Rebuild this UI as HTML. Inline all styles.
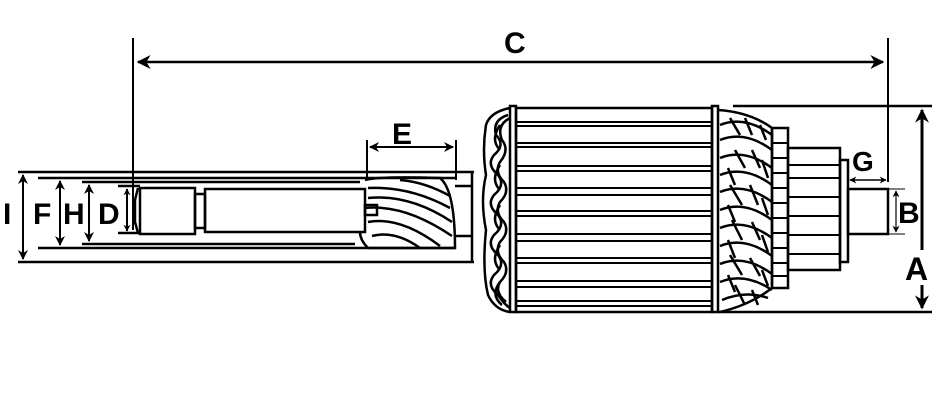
<!DOCTYPE html>
<html><head><meta charset="utf-8"><style>
html,body{margin:0;padding:0;background:#fff;}
svg{display:block}
text{font-family:"Liberation Sans",sans-serif;font-weight:bold;fill:#000}
</style></head><body>
<svg width="937" height="406" viewBox="0 0 937 406" xmlns="http://www.w3.org/2000/svg">
<defs>
<marker id="ar" viewBox="0 0 10 10" refX="9" refY="5" markerWidth="7" markerHeight="7" markerUnits="userSpaceOnUse" orient="auto-start-reverse"><path d="M0,0 L10,5 L0,10 L3,5 z" fill="#000"/></marker>
<marker id="aL" viewBox="0 0 10 10" refX="9" refY="5" markerWidth="16" markerHeight="14" markerUnits="userSpaceOnUse" orient="auto-start-reverse"><path d="M0,0 L10,5 L0,10 L3,5 z" fill="#000"/></marker>
<marker id="aM" viewBox="0 0 10 10" refX="9" refY="5" markerWidth="11" markerHeight="10" markerUnits="userSpaceOnUse" orient="auto-start-reverse"><path d="M0,0 L10,5 L0,10 L3,5 z" fill="#000"/></marker>
<marker id="as" viewBox="0 0 10 10" refX="9" refY="5" markerWidth="7" markerHeight="7" markerUnits="userSpaceOnUse" orient="auto-start-reverse"><path d="M0,0 L10,5 L0,10 L3,5 z" fill="#000"/></marker>
</defs>
<g stroke="#000" fill="none" stroke-width="2.5">
<!-- C dimension -->
<line x1="133" y1="38" x2="133" y2="230" stroke-width="2"/>
<line x1="888" y1="38" x2="888" y2="182" stroke-width="2"/>
<line x1="138" y1="62" x2="883" y2="62" marker-start="url(#aL)" marker-end="url(#aL)" stroke-width="2.5"/>
<!-- left shaft -->
<line x1="18" y1="172" x2="474" y2="172"/>
<line x1="18" y1="262" x2="474" y2="262"/>
<line x1="38" y1="178" x2="455" y2="178"/>
<line x1="38" y1="248" x2="455" y2="248"/>
<line x1="82" y1="182" x2="360" y2="182"/>
<line x1="82" y1="244" x2="355" y2="244"/>
<line x1="118" y1="186" x2="140" y2="186"/>
<line x1="118" y1="233" x2="140" y2="233"/>
<rect x="140" y="188" width="55" height="46"/>
<rect x="195" y="194" width="10" height="34"/>
<rect x="205" y="189" width="160" height="43"/>
<path d="M138,188 L135,200 L135,222 L138,233"/>
<!-- gear -->
<path d="M365,180 Q380,176 440,178 Q455,190 455,248 L368,248 Q360,240 360,232"/>
<path d="M368,188 Q410,186 450,208"/><path d="M368,198 Q410,194 452,222"/>
<path d="M365,208 Q405,204 452,236"/><path d="M368,222 Q400,216 440,246"/>
<path d="M372,236 Q395,230 420,248"/><path d="M400,180 Q425,182 450,196"/>
<rect x="365" y="205" width="12" height="10"/>
<line x1="455" y1="186" x2="472" y2="186"/><line x1="455" y1="236" x2="472" y2="236"/>
<line x1="472" y1="172" x2="472" y2="262"/>
<!-- E -->
<line x1="367" y1="140" x2="367" y2="180" stroke-width="2"/>
<line x1="456" y1="140" x2="456" y2="180" stroke-width="2"/>
<line x1="370" y1="147" x2="453" y2="147" marker-start="url(#aM)" marker-end="url(#aM)" stroke-width="2"/>
<!-- left dims -->
<line x1="23" y1="175" x2="23" y2="259" marker-start="url(#aM)" marker-end="url(#aM)" stroke-width="2"/>
<line x1="60" y1="181" x2="60" y2="245" marker-start="url(#aM)" marker-end="url(#aM)" stroke-width="2"/>
<line x1="89" y1="185" x2="89" y2="241" marker-start="url(#aM)" marker-end="url(#aM)" stroke-width="2"/>
<line x1="127" y1="189" x2="127" y2="231" marker-start="url(#as)" marker-end="url(#as)" stroke-width="2"/>
<!-- left windings -->
<path d="M510,108 Q490,112 486,125 Q482,150 486,175 Q480,200 486,230 Q482,270 488,295 Q495,310 510,312"/>
<path d="M508,115 Q492,120 496,135 Q506,145 494,155 Q486,165 498,175 Q506,185 494,195 Q486,205 498,215 Q506,225 494,235 Q486,245 498,255 Q506,265 494,275 Q486,285 498,295 Q505,305 510,308"/>
<path d="M510,118 Q496,125 502,140 Q510,150 500,162 Q494,172 504,182 Q510,192 500,202 Q494,212 504,222 Q510,232 500,242 Q494,252 504,262 Q510,272 500,282 Q494,292 506,302"/>
<path d="M500,125 Q490,140 500,150 M500,165 Q490,180 500,190 M500,205 Q490,220 500,230 M500,245 Q490,260 500,270 M500,282 Q490,295 502,305"/>
<!-- core -->
<rect x="510" y="106" width="6" height="206"/>
<rect x="516" y="108" width="196" height="204"/>
<rect x="712" y="106" width="6" height="206"/>
<g stroke-width="2">
<line x1="516" y1="122" x2="712" y2="122"/><line x1="516" y1="126" x2="712" y2="126"/>
<line x1="516" y1="143" x2="712" y2="143"/><line x1="516" y1="147" x2="712" y2="147"/>
<line x1="516" y1="166" x2="712" y2="166"/><line x1="516" y1="171" x2="712" y2="171"/>
<line x1="516" y1="188" x2="712" y2="188"/><line x1="516" y1="195" x2="712" y2="195"/>
<line x1="516" y1="211" x2="712" y2="211"/><line x1="516" y1="216" x2="712" y2="216"/>
<line x1="516" y1="234" x2="712" y2="234"/><line x1="516" y1="241" x2="712" y2="241"/>
<line x1="516" y1="258" x2="712" y2="258"/><line x1="516" y1="263" x2="712" y2="263"/>
<line x1="516" y1="281" x2="712" y2="281"/><line x1="516" y1="287" x2="712" y2="287"/>
<line x1="516" y1="301" x2="712" y2="301"/><line x1="516" y1="306" x2="712" y2="306"/>
</g>
<!-- right windings -->
<path d="M718,110 Q750,112 772,128 L772,288 Q750,305 720,312"/>
<g stroke-width="2.5">
<path d="M720,125 Q745,115 772,135"/><path d="M720,140 Q745,130 772,150"/>
<path d="M720,158 Q745,148 772,168"/><path d="M720,175 Q745,165 772,185"/>
<path d="M720,192 Q745,182 772,202"/><path d="M720,210 Q745,200 772,220"/>
<path d="M720,228 Q745,218 772,238"/><path d="M720,246 Q745,236 772,256"/>
<path d="M720,264 Q745,254 772,274"/><path d="M720,282 Q745,272 772,290"/>
<path d="M722,300 Q745,290 768,298"/>
<path d="M730,118 L740,135 M745,118 L752,135 M760,125 L766,140 M735,150 L745,168 M752,150 L760,168 M728,168 L735,185 M762,160 L768,178 M730,185 L742,205 M750,185 L758,205 M728,205 L735,222 M762,198 L768,215 M732,220 L742,240 M752,222 L760,240 M728,240 L735,258 M762,235 L768,252 M730,255 L742,275 M750,258 L760,276 M728,275 L735,292 M762,270 L768,286 M735,285 L745,305 M752,290 L758,305"/>
</g>
<!-- commutator -->
<rect x="772" y="128" width="16" height="160"/>
<g stroke-width="2">
<line x1="772" y1="143" x2="788" y2="143"/><line x1="772" y1="158" x2="788" y2="158"/>
<line x1="772" y1="173" x2="788" y2="173"/><line x1="772" y1="188" x2="788" y2="188"/>
<line x1="772" y1="203" x2="788" y2="203"/><line x1="772" y1="218" x2="788" y2="218"/>
<line x1="772" y1="233" x2="788" y2="233"/><line x1="772" y1="248" x2="788" y2="248"/>
<line x1="772" y1="263" x2="788" y2="263"/><line x1="772" y1="276" x2="788" y2="276"/>
</g>
<rect x="788" y="148" width="52" height="122"/>
<g stroke-width="2">
<line x1="788" y1="165" x2="840" y2="165"/><line x1="788" y1="178" x2="840" y2="178"/>
<line x1="788" y1="197" x2="840" y2="197"/><line x1="788" y1="216" x2="840" y2="216"/>
<line x1="788" y1="235" x2="840" y2="235"/><line x1="788" y1="254" x2="840" y2="254"/>
</g>
<rect x="840" y="160" width="8" height="102"/>
<rect x="848" y="189" width="40" height="45"/>
<!-- A -->
<line x1="733" y1="106" x2="932" y2="106"/>
<line x1="718" y1="312" x2="932" y2="312"/>
<line x1="922" y1="110" x2="922" y2="308" marker-start="url(#aL)" marker-end="url(#aL)" stroke-width="3"/>
<!-- B -->
<line x1="888" y1="189" x2="905" y2="189" stroke-width="1"/>
<line x1="888" y1="234" x2="905" y2="234" stroke-width="1"/>
<line x1="896" y1="191" x2="896" y2="232" marker-start="url(#as)" marker-end="url(#as)" stroke-width="1.2"/>
<!-- G -->
<line x1="850" y1="180" x2="886" y2="180" marker-start="url(#as)" marker-end="url(#as)" stroke-width="1.5"/>
</g>
<line x1="922" y1="250" x2="922" y2="285" stroke="#fff" stroke-width="6"/>
<text x="504" y="53" font-size="30">C</text>
<text x="392" y="144" font-size="30">E</text>
<text x="3" y="224" font-size="30">I</text>
<text x="33" y="224" font-size="30">F</text>
<text x="63" y="224" font-size="30">H</text>
<text x="98" y="224" font-size="30">D</text>
<text x="852" y="171" font-size="28">G</text>
<text x="898" y="223" font-size="30">B</text>
<text x="905" y="280" font-size="32">A</text>
</svg>
</body></html>
